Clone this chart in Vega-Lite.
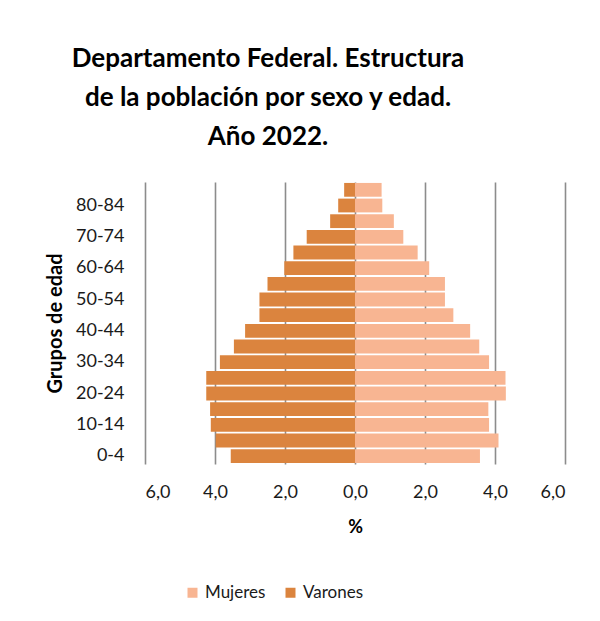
{
  "$schema": "https://vega.github.io/schema/vega-lite/v6.json",
  "width": 420,
  "height": 282,
  "autosize": {"type": "none"},
  "padding": {"left": 145, "top": 182, "right": 35, "bottom": 157},
  "background": "white",
  "config": {
    "font": "Lato",
    "view": {"stroke": null},
    "axis": {"labelFont": "Lato", "titleFont": "Lato", "labelColor": "#1a1a1a", "titleColor": "#000000"}
  },
  "title": {
    "text": ["Departamento Federal. Estructura", "de la población por sexo y edad.", "Año 2022."],
    "font": "Lato",
    "fontSize": 26,
    "fontWeight": "bold",
    "color": "#000000",
    "lineHeight": 39,
    "anchor": "middle",
    "dx": -87,
    "offset": 32
  },
  "datasets": {
    "pop": [
      {"edad": "0-4", "sexo": "Mujeres", "pct": 3.57},
      {"edad": "5-9", "sexo": "Mujeres", "pct": 4.10},
      {"edad": "10-14", "sexo": "Mujeres", "pct": 3.83},
      {"edad": "15-19", "sexo": "Mujeres", "pct": 3.81},
      {"edad": "20-24", "sexo": "Mujeres", "pct": 4.31},
      {"edad": "25-29", "sexo": "Mujeres", "pct": 4.30},
      {"edad": "30-34", "sexo": "Mujeres", "pct": 3.83},
      {"edad": "35-39", "sexo": "Mujeres", "pct": 3.55},
      {"edad": "40-44", "sexo": "Mujeres", "pct": 3.29},
      {"edad": "45-49", "sexo": "Mujeres", "pct": 2.81},
      {"edad": "50-54", "sexo": "Mujeres", "pct": 2.57},
      {"edad": "55-59", "sexo": "Mujeres", "pct": 2.57},
      {"edad": "60-64", "sexo": "Mujeres", "pct": 2.12},
      {"edad": "65-69", "sexo": "Mujeres", "pct": 1.79},
      {"edad": "70-74", "sexo": "Mujeres", "pct": 1.38},
      {"edad": "75-79", "sexo": "Mujeres", "pct": 1.11},
      {"edad": "80-84", "sexo": "Mujeres", "pct": 0.78},
      {"edad": "85+", "sexo": "Mujeres", "pct": 0.76},
      {"edad": "0-4", "sexo": "Varones", "pct": 3.55},
      {"edad": "5-9", "sexo": "Varones", "pct": 3.98},
      {"edad": "10-14", "sexo": "Varones", "pct": 4.12},
      {"edad": "15-19", "sexo": "Varones", "pct": 4.14},
      {"edad": "20-24", "sexo": "Varones", "pct": 4.25},
      {"edad": "25-29", "sexo": "Varones", "pct": 4.25},
      {"edad": "30-34", "sexo": "Varones", "pct": 3.86},
      {"edad": "35-39", "sexo": "Varones", "pct": 3.46},
      {"edad": "40-44", "sexo": "Varones", "pct": 3.14},
      {"edad": "45-49", "sexo": "Varones", "pct": 2.73},
      {"edad": "50-54", "sexo": "Varones", "pct": 2.73},
      {"edad": "55-59", "sexo": "Varones", "pct": 2.50},
      {"edad": "60-64", "sexo": "Varones", "pct": 2.02},
      {"edad": "65-69", "sexo": "Varones", "pct": 1.76},
      {"edad": "70-74", "sexo": "Varones", "pct": 1.38},
      {"edad": "75-79", "sexo": "Varones", "pct": 0.71},
      {"edad": "80-84", "sexo": "Varones", "pct": 0.48},
      {"edad": "85+", "sexo": "Varones", "pct": 0.31}
    ]
  },
  "data": {"name": "pop"},
  "encoding": {
    "y": {
      "field": "edad",
      "type": "ordinal",
      "sort": ["85+", "80-84", "75-79", "70-74", "65-69", "60-64", "55-59", "50-54", "45-49", "40-44", "35-39", "30-34", "25-29", "20-24", "15-19", "10-14", "5-9", "0-4"],
      "scale": {"paddingInner": 0.12, "paddingOuter": 0.06},
      "axis": {
        "title": "Grupos de edad",
        "titleFontSize": 20,
        "titleFontWeight": "bold",
        "titlePadding": 10,
        "values": ["0-4", "10-14", "20-24", "30-34", "40-44", "50-54", "60-64", "70-74", "80-84"],
        "labelFontSize": 18,
        "labelPadding": 21,
        "ticks": false,
        "domain": false,
        "grid": false
      }
    },
    "color": {
      "field": "sexo",
      "type": "nominal",
      "scale": {"domain": ["Mujeres", "Varones"], "range": ["#F8B592", "#DB843E"]},
      "legend": {
        "title": null,
        "orient": "none",
        "direction": "horizontal",
        "legendX": 39,
        "legendY": 402,
        "symbolType": "square",
        "symbolSize": 100,
        "symbolStrokeWidth": 0,
        "labelFont": "Lato",
        "labelFontSize": 17,
        "labelColor": "#1a1a1a",
        "labelOffset": 4,
        "columnPadding": 16,
        "padding": 0
      }
    }
  },
  "layer": [
    {
      "transform": [{"filter": "datum.sexo == 'Mujeres'"}],
      "mark": {"type": "bar"},
      "encoding": {
        "x": {
          "field": "pct",
          "type": "quantitative",
          "scale": {"domain": [-6, 6], "nice": false},
          "axis": {
            "title": "%",
            "titleFontSize": 18,
            "titleFontWeight": "bold",
            "titlePadding": 17,
            "values": [-6, -4, -2, 0, 2, 4, 6],
            "labelExpr": "replace(format(abs(datum.value), '.1f'), '.', ',')",
            "labelFontSize": 18,
            "labelPadding": 19,
            "ticks": false,
            "domain": false,
            "grid": true,
            "gridColor": "#8C8C8C",
            "gridWidth": 1.6
          }
        }
      }
    },
    {
      "transform": [{"filter": "datum.sexo == 'Varones'"}],
      "mark": {"type": "bar"},
      "encoding": {
        "x": {
          "field": "pct",
          "type": "quantitative",
          "scale": {"domain": [-6, 6], "nice": false, "reverse": true},
          "axis": null
        }
      }
    }
  ],
  "resolve": {"scale": {"x": "independent"}}
}
